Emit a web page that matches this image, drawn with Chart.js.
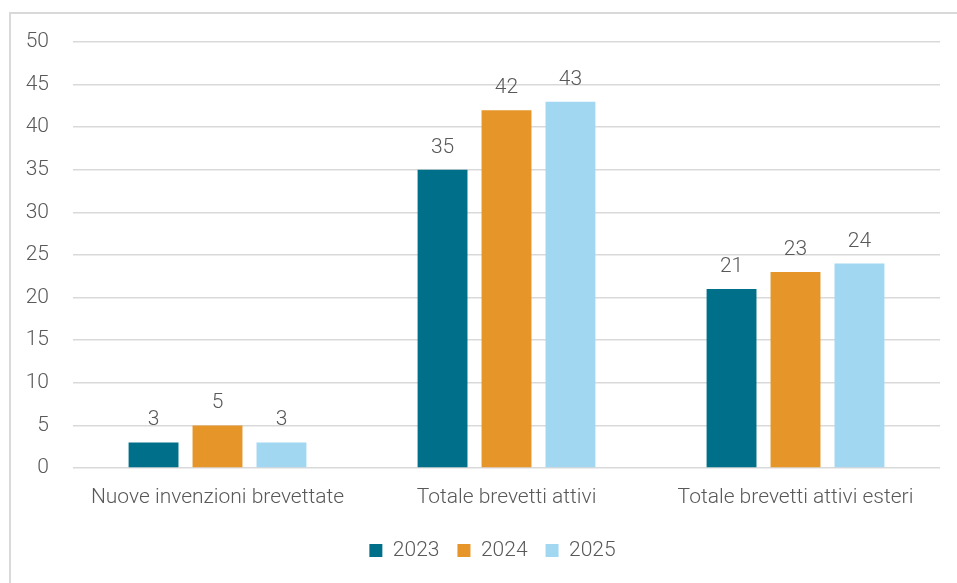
<!DOCTYPE html>
<html lang="it">
<head>
<meta charset="utf-8">
<title>Brevetti</title>
<script src="https://cdn.jsdelivr.net/npm/chart.js@4"></script>
<style>
  html, body { margin: 0; padding: 0; background: #fff; }
  #wrap { position: relative; width: 957px; height: 583px; overflow: hidden; }
  #frame {
    position: absolute; left: 9px; top: 12px; width: 1000px; height: 600px;
    border-top: 2px solid #d9d9d9; border-left: 2px solid #d9d9d9;
  }
  canvas { position: absolute; left: 0; top: 0; }
</style>
</head>
<body>
<div id="wrap">
  <div id="frame"></div>
  <canvas id="chart" width="957" height="583"></canvas>
</div>
<script>
const categories = ["Nuove invenzioni brevettate", "Totale brevetti attivi", "Totale brevetti attivi esteri"]
const years = ["2023", "2024", "2025"]
const values2023 = [3, 35, 21]
const values2024 = [5, 42, 23]
const values2025 = [3, 43, 24]
const colors = ["#00708a", "#e69528", "#a2d7f1"]

const textColor = "#595959"
const fontFamily = "Roboto, 'Liberation Sans', sans-serif"
const textFont = { family: fontFamily, size: 21, weight: "300" }

// scrive il valore sopra ogni barra
const valueLabels = {
  id: "valueLabels",
  afterDatasetsDraw(chart) {
    const ctx = chart.ctx
    ctx.save()
    ctx.font = `300 21px ${fontFamily}`
    ctx.fillStyle = textColor
    ctx.textAlign = "center"
    ctx.textBaseline = "alphabetic"
    chart.data.datasets.forEach((ds, i) => {
      chart.getDatasetMeta(i).data.forEach((bar, j) => {
        ctx.fillText(String(ds.data[j]), bar.x, bar.y - 17)
      })
    })
    ctx.restore()
  }
}

// centra la legenda sotto l'area del grafico, non sull'intero canvas
const legendShift = {
  id: "legendShift",
  afterLayout(chart) {
    const lg = chart.legend
    if (!lg) return
    const dx = (chart.chartArea.left + chart.chartArea.right) / 2 - (lg.left + lg.right) / 2 - 14
    lg.left += dx
    lg.right += dx
    lg.adjustHitBoxes()
  }
}

new Chart(document.getElementById("chart"), {
  type: "bar",
  data: {
    labels: categories,
    datasets: [values2023, values2024, values2025].map((data, i) => ({
      label: years[i],
      data,
      backgroundColor: colors[i],
      borderWidth: 0,
      categoryPercentage: 0.664,
      barPercentage: 0.78
    }))
  },
  options: {
    responsive: false,
    animation: false,
    layout: { padding: { left: 10, top: 42, right: 17, bottom: 12 } },
    plugins: {
      legend: {
        position: "bottom",
        labels: {
          boxWidth: 13,
          boxHeight: 13,
          padding: 18,
          color: textColor,
          font: textFont
        }
      },
      tooltip: { enabled: false }
    },
    scales: {
      x: {
        grid: { display: false, drawTicks: false },
        border: { display: false },
        ticks: { color: textColor, padding: 17, font: textFont },
        afterFit: (scale) => { scale.height = 54 }
      },
      y: {
        min: 0,
        max: 50,
        ticks: { stepSize: 5, color: textColor, padding: 24, font: textFont },
        grid: { color: "#d9d9d9", lineWidth: 1.5, drawTicks: false },
        border: { display: false },
        afterFit: (scale) => { scale.width = 63 }
      }
    }
  },
  plugins: [valueLabels, legendShift]
})
</script>
</body>
</html>
